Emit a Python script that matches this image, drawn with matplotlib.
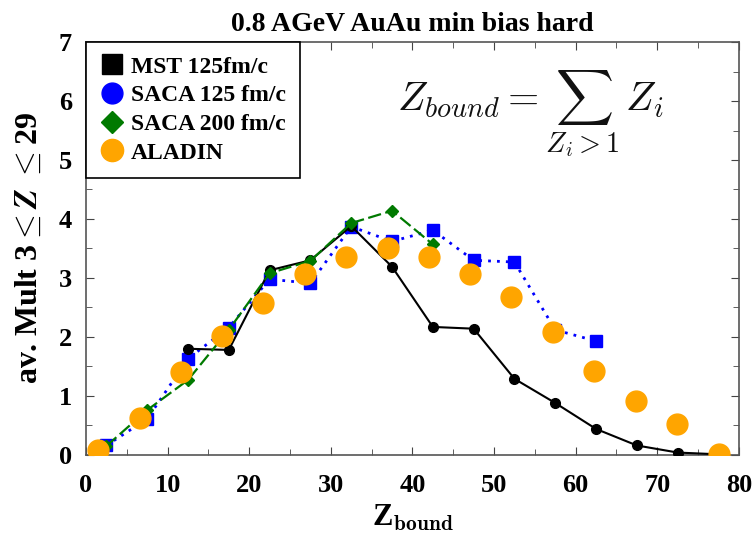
import matplotlib
matplotlib.use("Agg")
import matplotlib.pyplot as plt
from matplotlib.lines import Line2D
from matplotlib.ticker import MultipleLocator

# MST clusterisation at 125 fm/c
mst_z = [12.5, 17.5, 22.5, 27.5, 32.5, 37.5, 42.5, 47.5, 52.5, 57.5, 62.5, 67.5, 72.5, 77.5]
mst_m = [1.80, 1.78, 3.13, 3.30, 3.88, 3.19, 2.17, 2.14, 1.29, 0.88, 0.44, 0.16, 0.04, 0.01]

# SACA at 125 fm/c
saca125_z = [2.5, 7.5, 12.5, 17.5, 22.5, 27.5, 32.5, 37.5, 42.5, 47.5, 52.5, 57.5, 62.5]
saca125_m = [0.16, 0.61, 1.63, 2.16, 2.98, 2.91, 3.87, 3.62, 3.81, 3.30, 3.27, 2.12, 1.93]

# SACA at 200 fm/c
saca200_z = [2.5, 7.5, 12.5, 17.5, 22.5, 27.5, 32.5, 37.5, 42.5]
saca200_m = [0.15, 0.76, 1.27, 2.12, 3.08, 3.29, 3.93, 4.14, 3.57]

# ALADIN data
aladin_z = [1.5, 6.6, 11.6, 16.7, 21.7, 26.8, 31.9, 37.0, 42.0, 47.1, 52.1, 57.2, 62.3, 67.4, 72.4, 77.5]
aladin_m = [0.09, 0.62, 1.40, 2.02, 2.57, 3.07, 3.36, 3.50, 3.36, 3.06, 2.67, 2.09, 1.43, 0.92, 0.53, 0.02]

labels = ["MST 125fm/c", "SACA 125 fm/c", "SACA 200 fm/c", "ALADIN"]

plt.rcParams["font.family"] = ["Liberation Serif", "DejaVu Serif"]
plt.rcParams["font.weight"] = "bold"
plt.rcParams["mathtext.fontset"] = "cm"

fig = plt.figure(figsize=(7.54, 5.39), dpi=100)
ax = fig.add_axes([0.114, 0.156, 0.866, 0.766])

green = "#007a00"
orange = "#ffa500"

ax.plot(mst_z, mst_m, color="black", lw=1.5, marker="o", ms=7, zorder=3)
ax.plot(saca125_z, saca125_m, color="blue", lw=2, ls=(0, (1, 2.2)), marker="s", ms=8, zorder=2)
ax.plot(saca200_z, saca200_m, color=green, lw=1.6, ls=(0, (6, 2)), marker="D", ms=6, zorder=4)
ax.plot(aladin_z, aladin_m, ls="none", marker="o", ms=15, color=orange, mec=orange, zorder=5)

ax.set_xlim(0, 80)
ax.set_ylim(0, 7)
ax.xaxis.set_major_locator(MultipleLocator(10))
ax.xaxis.set_minor_locator(MultipleLocator(5))
ax.yaxis.set_major_locator(MultipleLocator(1))
ax.yaxis.set_minor_locator(MultipleLocator(0.5))
ax.tick_params(which="both", direction="in", top=True, right=True, labelsize=19, color="#444444")
ax.tick_params(which="major", length=6)
ax.tick_params(which="minor", length=4)
for lbl in ax.get_xticklabels() + ax.get_yticklabels():
    lbl.set_fontweight("bold")
ax.tick_params(axis="x", pad=14)
ax.tick_params(axis="y", pad=10)
for s in ax.spines.values():
    s.set_color("#555555")
    s.set_linewidth(1.2)

ax.set_title("0.8 AGeV AuAu min bias hard", fontsize=20, fontweight="bold", pad=8)
ax.set_xlabel(r"Z$_{\mathbf{bound}}$", fontsize=22, fontweight="bold", labelpad=4)
ax.set_ylabel(r"av. Mult 3$\leq$$\boldsymbol{Z}$ $\leq$29", fontsize=23, fontweight="bold", labelpad=11)

ax.text(0.476, 0.828, r"$Z_{bound} = \sum_{Z_i>1}\, Z_i$", transform=ax.transAxes,
        fontsize=29, ha="left", va="center", color="#111111")

handles = [
    Line2D([], [], ls="none", marker="s", ms=14, color="black"),
    Line2D([], [], ls="none", marker="o", ms=15, color="blue"),
    Line2D([], [], ls="none", marker="D", ms=11, color=green),
    Line2D([], [], ls="none", marker="o", ms=16, color=orange),
]
leg = ax.legend(handles, labels, loc="upper left", bbox_to_anchor=(0, 1),
                prop={"family": "Liberation Serif", "weight": "bold", "size": 17},
                fancybox=False, edgecolor="black", framealpha=1,
                borderaxespad=0, handletextpad=0.3, handlelength=1.0,
                labelspacing=0.3, borderpad=0.6)
leg.get_frame().set_linewidth(1.2)

fig.savefig("out.png", dpi=100)
